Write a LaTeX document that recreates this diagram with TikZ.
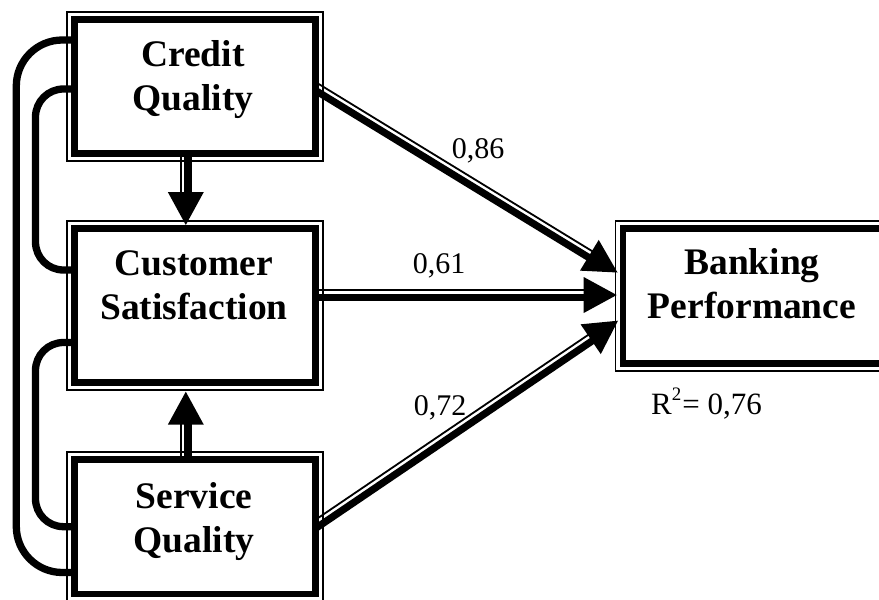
\documentclass[tikz,border=0pt]{standalone}
\usepackage{fontspec}
\setmainfont{Liberation Serif}
\usetikzlibrary{calc}
\tikzset{
  box/.style={draw, line width=6.9pt, fill=white, outer sep=0pt, inner sep=0pt, minimum width=241pt},
  frame/.style={draw, line width=1.5pt},
  curve/.style={draw, line width=7.3pt},
  boxtext/.style={font=\fontsize{37.5}{44}\selectfont\bfseries, align=center, inner sep=0pt},
  lab/.style={font=\fontsize{30}{36}\selectfont, inner sep=0pt}
}
\newcommand\dblarrow[3]{%
  \path #1 coordinate (aS) #2 coordinate (aT);
  \coordinate (aH) at ($(aT)!33pt!(aS)$);
  \coordinate (aH2) at ($(aT)!28pt!(aS)$);
  \draw[line width=1.8pt] ($(aS)!5pt!#3:(aT)$) -- ($(aH2)!5pt!#3:(aT)$);
  \draw[line width=7.2pt] ($(aS)!-2.2pt!#3:(aT)$) -- ($(aH2)!-2.2pt!#3:(aT)$);
  \fill ($(aH)!18pt!90:(aT)$) -- (aT) -- ($(aH)!18pt!-90:(aT)$) -- cycle;
}
\begin{document}
\begin{tikzpicture}[x=1pt, y=-1pt]
\useasboundingbox (0,0) rectangle (879,600);
% boxes (positions)
\path
  (195.2,86.4) node[box, minimum height=134.2pt] (credit) {}
  (195.2,305.4) node[box, minimum height=154.2pt] (cust) {}
  (195.2,526.65) node[box, minimum height=134.7pt] (serv) {}
  (752.5,295.8) node[box, minimum width=259pt, minimum height=135pt] (bank) {};
% curved connectors on the left
\coordinate (o1) at (16.3,40);
\coordinate (o2) at (16.3,572.5);
\coordinate (i1) at (35.5,89);
\coordinate (i2) at (35.5,270);
\coordinate (j1) at (35.5,342.5);
\coordinate (j2) at (35.5,526.7);
\draw[curve, rounded corners=46pt] ($(credit.west)+(0,-46.4)$) -- (o1) -- (o2) -- ($(serv.west)+(0,45.85)$);
\draw[curve, rounded corners=28pt] ($(credit.west)+(0,2.6)$) -- (i1) -- (i2) -- ($(cust.west)+(0,-35.4)$);
\draw[curve, rounded corners=28pt] ($(cust.west)+(0,37.1)$) -- (j1) -- (j2) -- (serv.west);
% arrows
\dblarrow{($(credit.south)+(-9.4,0)$)}{($(cust.north)+(-9.4,-3.3)$)}{-90}
\dblarrow{($(serv.north)+(-9.4,0)$)}{($(cust.south)+(-9.4,9.2)$)}{90}
\dblarrow{($(cust.east)+(0,-10.4)$)}{($(bank.west)+(-6.3,-0.8)$)}{90}
\dblarrow{($(credit.east)+(0,1.6)$)}{($(bank.west)+(-5.5,-23.3)$)}{90}
\dblarrow{($(serv.east)+(0,-1)$)}{($(bank.west)+(-5,24.9)$)}{90}
% redraw boxes on top
\path
  (195.2,86.4) node[box, minimum height=134.2pt] (credit) {}
  (195.2,305.4) node[box, minimum height=154.2pt] (cust) {}
  (195.2,526.65) node[box, minimum height=134.7pt] (serv) {}
  (752.5,295.8) node[box, minimum width=259pt, minimum height=135pt] (bank) {};
\foreach \b in {credit,cust,serv,bank}{
  \draw[frame] ($(\b.north west)+(-7.5,-7.5)$) rectangle ($(\b.south east)+(7.5,7.5)$);
}
% texts (base anchor = baseline of the last line)
\node[boxtext, anchor=base] (tcredit) at (193,110) {Credit\\Quality};
\node[boxtext, anchor=base] (tcust) at (194,319) {Customer\\Satisfaction};
\node[boxtext, anchor=base] (tserv) at (194,552) {Service\\Quality};
\node[boxtext, anchor=base] (tbank) at (752,318) {Banking\\Performance};
\node[lab, anchor=base] (l86) at (478,158) {0,86};
\node[lab, anchor=base] (l61) at (439,273) {0,61};
\node[lab, anchor=base] (l72) at (440,415) {0,72};
\node[lab, anchor=base west, font=\fontsize{31}{36}\selectfont] (r2) at (651,414) {R\raisebox{0.42em}{\fontsize{19}{19}\selectfont 2}\kern1pt= 0,76};
\end{tikzpicture}
\end{document}
